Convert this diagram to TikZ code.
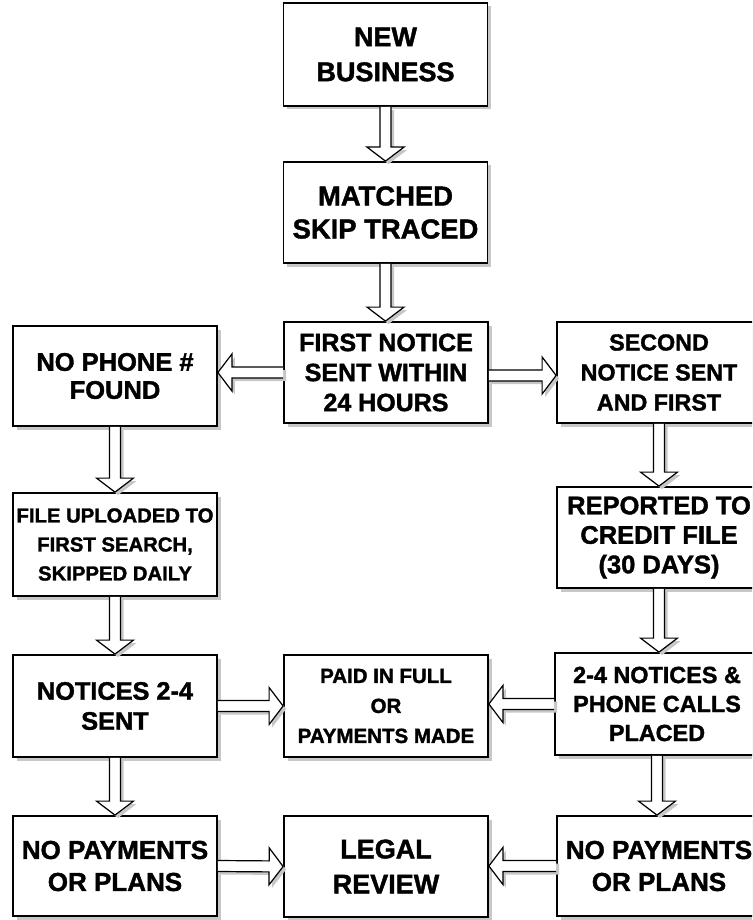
\documentclass[tikz,border=0pt]{standalone}
\usepackage{fontspec}
\setmainfont{Liberation Sans}[BoldFeatures={FakeBold=1.5}]
\usetikzlibrary{calc,shadows}
\newcommand\fs[2]{\bfseries\fontsize{#1}{#2}\selectfont}
\tikzset{
  box/.style={draw, line width=1.8pt, fill=white, inner sep=0pt, align=center,
    minimum width=204pt, minimum height=101pt,
    drop shadow={shadow xshift=3.5pt, shadow yshift=-3.5pt, fill=black!22, opacity=1}},
  barrow/.style={draw, line width=1.2pt, fill=white, line join=miter,
    drop shadow={shadow xshift=3pt, shadow yshift=-3pt, fill=black!22, opacity=1}},
}
\newcommand\blk[2]{%
  \coordinate (bs) at (#1);
  \coordinate (bt) at (#2);
  \coordinate (bb) at ($(bt)!14pt!(bs)$);
  \filldraw[barrow] ($(bs)!5.5pt!90:(bt)$) -- ($(bb)!5.5pt!90:(bt)$) --
    ($(bb)!18.5pt!90:(bt)$) -- (bt) -- ($(bb)!18.5pt!-90:(bt)$) --
    ($(bb)!5.5pt!-90:(bt)$) -- ($(bs)!5.5pt!-90:(bt)$);
}
\begin{document}
\begin{tikzpicture}[x=1pt,y=-1pt]
\useasboundingbox (0,0) rectangle (752,920);
\clip (0,0) rectangle (752,920);
% boxes
\node[box, minimum height=103pt, font=\fs{27}{35}] (NB) at (385.5,54.5) {NEW\\BUSINESS};
\node[box, font=\fs{27.4}{33}] (MT) at (385.5,212.5) {MATCHED\\SKIP TRACED};
\node[box, font=\fs{25}{30}] (FN) at (386,372.5) {FIRST NOTICE\\SENT WITHIN\\24 HOURS};
\node[box, minimum height=100pt, font=\fs{25.5}{28}] (NP) at (115,376) {NO PHONE \#\\FOUND};
\node[box, font=\fs{23.3}{30}] (SN) at (659,372.5) {SECOND\\NOTICE SENT\\AND FIRST};
\node[box, minimum height=103pt, font=\fs{20.3}{29}] (FU) at (115,544.5) {FILE UPLOADED TO\\FIRST SEARCH,\\SKIPPED DAILY};
\node[box, font=\fs{25.5}{29.5}] (RP) at (659,537.5) {REPORTED TO\\CREDIT FILE\\(30 DAYS)};
\node[box, minimum height=102pt, font=\fs{25.3}{30}] (N24) at (115,706) {NOTICES 2-4\\SENT};
\node[box, minimum height=102pt, font=\fs{20.5}{30}] (PD) at (386,706) {PAID IN FULL\\OR\\PAYMENTS MADE};
\node[box, minimum height=102pt, font=\fs{23.4}{29}] (NR) at (657,704) {2-4 NOTICES \&\\PHONE CALLS\\PLACED};
\node[box, minimum height=100pt, font=\fs{26}{32}] (PL) at (115,866) {NO PAYMENTS\\OR PLANS};
\node[box, font=\fs{27}{35}] (LG) at (386,866.5) {LEGAL\\REVIEW};
\node[box, minimum height=100pt, font=\fs{26}{32}] (PR) at (659,866) {NO PAYMENTS\\OR PLANS};
% arrows
\blk{NB.south}{NB.south |- MT.north}
\blk{MT.south}{MT.south |- FN.north}
\blk{FN.west}{FN.west -| NP.east}
\coordinate (fr) at ($(FN.east)+(0,3)$);
\blk{fr}{fr -| SN.west}
\blk{NP.south}{FU.north}
\blk{FU.south}{N24.north}
\blk{SN.south}{SN.south |- RP.north}
\blk{RP.south}{RP.south |- NR.north}
\blk{N24.east}{PD.west}
\blk{NR.west}{NR.west -| PD.east}
\blk{N24.south}{PL.north}
\blk{NR.south}{NR.south |- PR.north}
\blk{PL.east}{LG.west}
\blk{PR.west}{PR.west -| LG.east}
\end{tikzpicture}
\end{document}
